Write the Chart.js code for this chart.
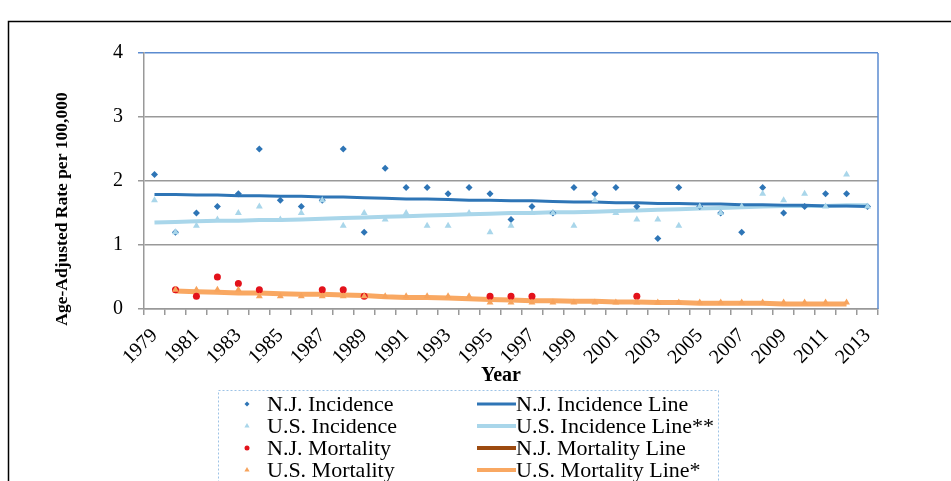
<!DOCTYPE html>
<html>
<head>
<meta charset="utf-8">
<script src="https://cdn.jsdelivr.net/npm/chart.js@4.4.1/dist/chart.umd.min.js"></script>
<style>
  html, body { margin: 0; padding: 0; background: #fff; }
  #wrap { position: relative; width: 951px; height: 481px; }
</style>
</head>
<body>
<div id="wrap"><canvas id="grafico" width="951" height="481"></canvas></div>
<script>
const years = ['1979','1980','1981','1982','1983','1984','1985','1986','1987','1988','1989','1990',
  '1991','1992','1993','1994','1995','1996','1997','1998','1999','2000','2001','2002','2003','2004',
  '2005','2006','2007','2008','2009','2010','2011','2012','2013'];

// puntos anuales
const njIncidence = [2.1,1.2,1.5,1.6,1.8,2.5,1.7,1.6,1.7,2.5,1.2,2.2,1.9,1.9,1.8,1.9,1.8,1.4,1.6,1.5,
  1.9,1.8,1.9,1.6,1.1,1.9,1.6,1.5,1.2,1.9,1.5,1.6,1.8,1.8,1.6];
const usIncidence = [1.7,1.2,1.3,1.4,1.5,1.6,1.4,1.5,1.7,1.3,1.5,1.4,1.5,1.3,1.3,1.5,1.2,1.3,1.5,1.5,
  1.3,1.7,1.5,1.4,1.4,1.3,1.6,1.5,1.6,1.8,1.7,1.8,1.6,2.1,1.6];
const njMortality = [null,0.3,0.2,0.5,0.4,0.3,null,null,0.3,0.3,0.2,null,null,null,null,null,0.2,0.2,0.2,null,
  null,null,null,0.2,null,null,null,null,null,null,null,null,null,null,null];
const usMortality = [null,0.3,0.3,0.3,0.3,0.2,0.2,0.2,0.2,0.2,0.2,0.2,0.2,0.2,0.2,0.2,0.1,0.1,0.1,0.1,
  0.1,0.1,0.1,0.1,0.1,0.1,0.1,0.1,0.1,0.1,0.1,0.1,0.1,0.1,null];

// lineas de tendencia
const njIncidenceLine = [1.79,1.79,1.78,1.78,1.77,1.77,1.76,1.76,1.75,1.75,1.74,1.73,1.72,1.72,1.71,1.70,
  1.70,1.69,1.69,1.68,1.67,1.67,1.66,1.66,1.65,1.65,1.64,1.64,1.63,1.63,1.62,1.62,1.61,1.61,1.60];
const usIncidenceLine = [1.35,1.36,1.37,1.38,1.38,1.39,1.39,1.40,1.41,1.42,1.43,1.44,1.45,1.46,1.47,1.48,
  1.49,1.50,1.50,1.51,1.51,1.52,1.53,1.54,1.55,1.56,1.57,1.58,1.59,1.60,1.61,1.61,1.61,1.62,1.62];
const njMortalityLine = [];
const usMortalityLine = [null,0.28,0.27,0.26,0.25,0.25,0.24,0.23,0.23,0.22,0.21,0.19,0.18,0.18,0.17,0.16,
  0.15,0.14,0.13,0.13,0.12,0.12,0.11,0.11,0.10,0.10,0.09,0.09,0.09,0.09,0.08,0.08,0.08,0.08,null];

const serif = "'Liberation Serif', 'Times New Roman', serif";

const puntos = (label, data, color, style, radius, order) => ({
  label: label, data: data, showLine: false,
  pointStyle: style, pointRadius: radius, pointHoverRadius: radius,
  backgroundColor: color, borderColor: color, pointBorderWidth: 0, order: order
});
const linea = (label, data, color, width, order) => ({
  label: label, data: data, borderColor: color, backgroundColor: color,
  borderWidth: width, pointRadius: 0, tension: 0, order: order
});

const datasets = [
  puntos('N.J. Incidence', njIncidence, '#2E75B6', 'rectRot', 3.5, 4),
  puntos('U.S. Incidence', usIncidence, '#A9D6EA', 'triangle', 4, 3),
  puntos('N.J. Mortality', njMortality, '#E3121B', 'circle', 3.5, 2),
  puntos('U.S. Mortality', usMortality, '#F7A35C', 'triangle', 4, 1),
  linea('N.J. Incidence Line', njIncidenceLine, '#2E75B6', 3, 8),
  linea('U.S. Incidence Line**', usIncidenceLine, '#A9D6EA', 4, 9),
  linea('N.J. Mortality Line', njMortalityLine, '#9C4A10', 4, 7),
  linea('U.S. Mortality Line*', usMortalityLine, '#F9A862', 5, 6)
];

// marco, titulos de ejes, leyenda
const decoracion = {
  id: 'decoracion',
  afterDraw(chart) {
    const ctx = chart.ctx;
    const area = chart.chartArea;
    ctx.save();
    // marco exterior
    ctx.strokeStyle = '#000';
    ctx.lineWidth = 1.5;
    ctx.strokeRect(8.5, 21.5, 1200, 800);
    // borde derecho del area
    ctx.strokeStyle = '#5B8BD0';
    ctx.lineWidth = 1.5;
    ctx.beginPath();
    ctx.moveTo(area.right, area.top);
    ctx.lineTo(area.right, area.bottom);
    ctx.stroke();
    // titulo eje x
    ctx.fillStyle = '#000';
    ctx.font = 'bold 20px ' + serif;
    ctx.textAlign = 'center';
    ctx.textBaseline = 'middle';
    ctx.fillText('Year', 501, 376);
    // titulo eje y
    ctx.translate(62, 209);
    ctx.rotate(-Math.PI / 2);
    ctx.font = 'bold 17.5px ' + serif;
    ctx.fillText('Age-Adjusted Rate per 100,000', 0, 0);
    ctx.restore();

    // leyenda
    ctx.save();
    ctx.strokeStyle = '#9DC3E6';
    ctx.lineWidth = 1;
    ctx.setLineDash([2, 2]);
    ctx.strokeRect(218.5, 390.5, 500, 200);
    ctx.setLineDash([]);
    ctx.font = '22px ' + serif;
    ctx.textBaseline = 'middle';
    ctx.textAlign = 'left';
    const filas = [404, 426, 448, 470];
    for (let i = 0; i < 4; i++) {
      const p = chart.data.datasets[i];
      ctx.fillStyle = p.backgroundColor;
      ctx.strokeStyle = p.borderColor;
      Chart.helpers.drawPoint(ctx, {pointStyle: p.pointStyle, radius: p.pointRadius - 1, borderWidth: 0, rotation: 0}, 247, filas[i]);
      ctx.fillStyle = '#000';
      ctx.fillText(p.label, 267, filas[i] + 1);
      const l = chart.data.datasets[i + 4];
      ctx.strokeStyle = l.borderColor;
      ctx.lineWidth = Math.min(l.borderWidth, 4);
      ctx.beginPath();
      ctx.moveTo(477, filas[i]);
      ctx.lineTo(516, filas[i]);
      ctx.stroke();
      ctx.fillText(l.label, 516, filas[i] + 1);
    }
    ctx.restore();
  }
};

const grafico = new Chart(document.getElementById('grafico').getContext('2d'), {
  type: 'line',
  data: { labels: years, datasets: datasets },
  options: {
    responsive: false,
    animation: false,
    devicePixelRatio: 1,
    layout: { padding: { top: 53, right: 73, left: 0, bottom: 96 } },
    plugins: { legend: { display: false }, tooltip: { enabled: false } },
    scales: {
      x: {
        offset: true,
        afterFit: (scale) => { scale.height = 76; },
        grid: { offset: true, drawOnChartArea: false, drawTicks: true, tickLength: 6, color: '#999', lineWidth: 1.5 },
        border: { color: '#999', width: 1.5 },
        ticks: {
          autoSkip: false, maxRotation: 45, minRotation: 45, padding: 9,
          color: '#000', font: { family: serif, size: 20 },
          callback: function (val, i) { return i % 2 === 0 ? this.getLabelForValue(val) : ''; }
        },
        title: { display: false }
      },
      y: {
        min: 0, max: 4,
        afterFit: (scale) => { scale.width = 144; },
        grid: {
          color: (c) => c.tick && c.tick.value === 4 ? '#5B8BD0' : '#999',
          lineWidth: 1.5, tickLength: 6
        },
        border: { color: '#999', width: 1.5 },
        ticks: { stepSize: 1, padding: 15, color: '#000', font: { family: serif, size: 20 } }
      }
    }
  },
  plugins: [decoracion]
});
</script>
</body>
</html>
